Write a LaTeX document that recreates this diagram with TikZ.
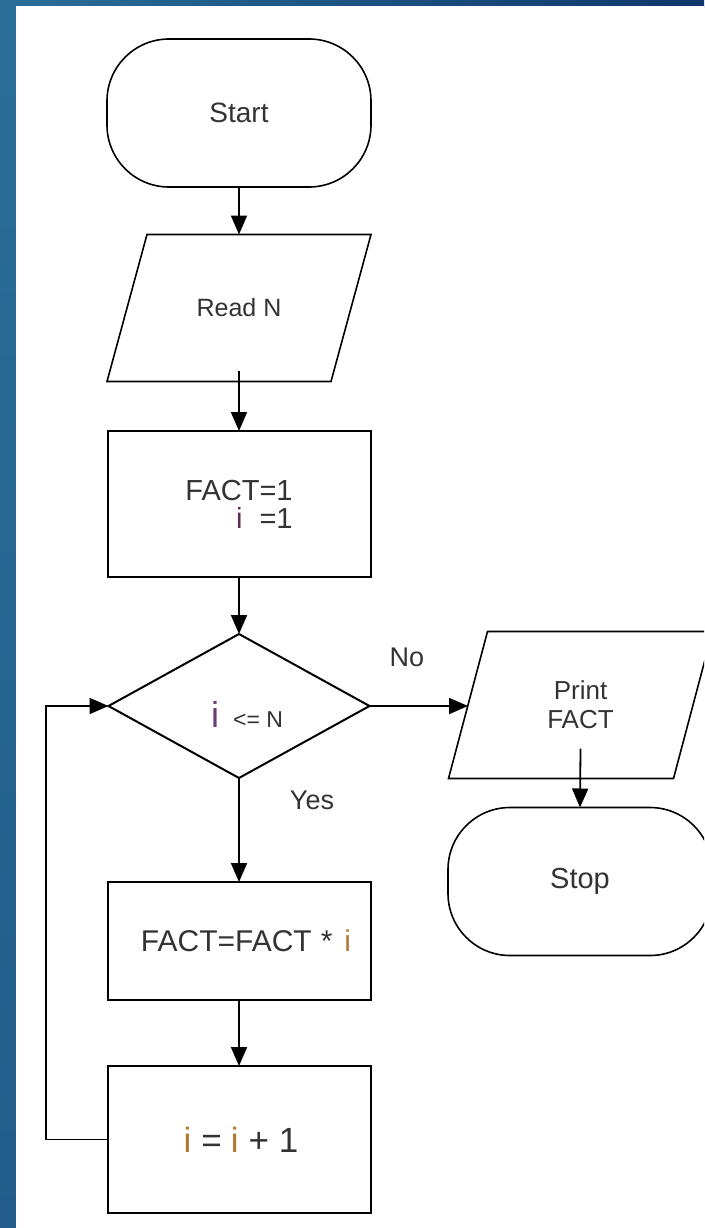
\documentclass[tikz,border=0pt]{standalone}
\usepackage{fontspec}
\setmainfont{Liberation Sans}
\usetikzlibrary{shapes.geometric,arrows.meta}

\definecolor{ink}{HTML}{333333}
\definecolor{stripTop}{HTML}{2A6F98}
\definecolor{stripMid}{HTML}{3790AB}
\definecolor{stripBot}{HTML}{235C8A}
\definecolor{barRight}{HTML}{0F376A}
\definecolor{icolA}{HTML}{5E2A58}
\definecolor{icolB}{HTML}{6A3C78}
\definecolor{icolC}{HTML}{B47A34}

\newcommand\fsz[1]{\fontsize{#1pt}{#1pt}\selectfont}

\begin{document}
\begin{tikzpicture}[x=1pt,y=-1pt,
  term/.style={draw, rectangle, rounded corners=62pt, line width=1.6pt,
    minimum width=264pt, minimum height=148pt, inner sep=0pt, outer sep=0pt,
    text=ink},
  iobody/.style={rectangle, minimum width=264pt, minimum height=147pt,
    inner sep=0pt, outer sep=0pt, text=ink},
  iobox/.style={line width=1.6pt},
  procbox/.style={draw, rectangle, line width=2pt, inner sep=0pt, outer sep=0pt,
    minimum width=263pt, text=ink},
  decision/.style={draw, diamond, line width=2pt, inner sep=0pt, outer sep=0pt,
    minimum width=261pt, minimum height=144pt},
  txt/.style={inner sep=0pt, text=ink},
  arr/.style={line width=1.8pt, -{Triangle[length=19pt,width=16pt]}}
]
\useasboundingbox (0,0) rectangle (704,1228);
\clip (0,0) rectangle (704,1228);

% slide background and white sheet
\shade[left color=stripTop, right color=barRight] (0,0) rectangle (704,8);
\shade[top color=stripTop, middle color=stripMid, bottom color=stripBot]
  (0,0) rectangle (16,1228);
\fill[white] (16,6) rectangle (704,1228);

% terminals
\node[term, font=\fsz{28}] (start) at (239,113) {Start};
\node[term, font=\fsz{29}] (stop) at (580,881.5) {Stop};

% input / output parallelograms
\node[iobody, font=\fsz{25}] (readn) at (239,308) {Read N};
\draw[iobox] ([xshift=40pt]readn.north west) -- (readn.north east)
  -- ([xshift=-40pt]readn.south east) -- (readn.south west) -- cycle;

\node[iobody, font=\fsz{26}, align=center] (print) at (580.5,705)
  {Print\\[3pt]FACT};
\draw[iobox] ([xshift=39pt]print.north west) -- (print.north east)
  -- ([xshift=-39pt]print.south east) -- (print.south west) -- cycle;
\coordinate (printin) at ([xshift=19.5pt]print.west);

% processing steps
\node[procbox, minimum height=146pt, font=\fsz{29}, align=right] (init)
  at (239,504) {FACT=1\\[-1pt]{\color{icolA}i}\hspace{17pt}=1};
\node[procbox, minimum height=118pt, font=\fsz{30}] (body) at (239,941)
  {\hspace*{14pt}FACT=FACT\hspace{9pt}*\hspace{12pt}{\color{icolC}i}};
\node[procbox, minimum height=147pt, font=\fsz{35}] (incr) at (239,1139.5)
  {\hspace*{4pt}{\color{icolC}i}\hspace{10pt}=\hspace{9pt}{\color{icolC}i}\hspace{10pt}+\hspace{10pt}1};

% decision
\node[decision] (cond) at (239,706) {};
\node[txt] (condtext) at (247,714)
  {{\fsz{36}\color{icolB}i}\hspace{14pt}{\fsz{23}<= N}};

% branch labels
\node[txt, font=\fsz{27}] (nolabel) at (407,657) {No};
\node[txt, font=\fsz{27}] (yeslabel) at (312,800) {Yes};

% connectors
\coordinate (loopx) at (46,0);
\draw[arr] (start.south) -- (readn.north);
\draw[arr] ([yshift=11pt]readn.south) -- (init.north);
\draw[arr] (init.south) -- (cond.north);
\draw[arr] (cond.east) -- (cond.east -| printin);
\draw[arr] ([yshift=30pt]print.south) -- (stop.north);
\draw[arr] (cond.south) -- (body.north);
\draw[arr] (body.south) -- (incr.north);
\draw[arr] (incr.west) -- (incr.west -| loopx) |- (cond.west);
\end{tikzpicture}
\end{document}
